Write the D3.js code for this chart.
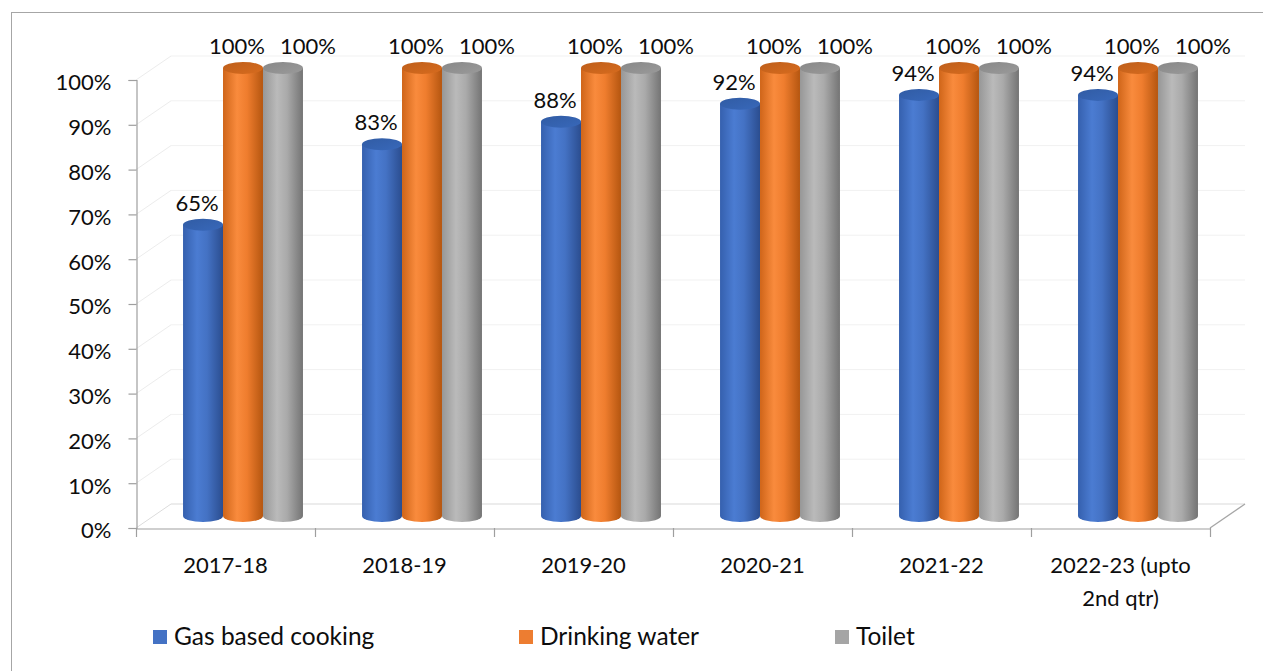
<!DOCTYPE html>
<html>
<head>
<meta charset="utf-8">
<script src="https://cdn.jsdelivr.net/npm/d3@7"></script>
<style>
  html, body { margin: 0; padding: 0; background: #ffffff; }
  svg { display: block; }
  text { font-family: Lato, "Open Sans", sans-serif; fill: #0d0d0d; }
</style>
</head>
<body>
<svg id="chart" width="1263" height="671"></svg>
<script>
// Facilities available, share by year
const categories = ["2017-18", "2018-19", "2019-20", "2020-21", "2021-22", "2022-23 (upto 2nd qtr)"];
const gasCooking = [0.65, 0.83, 0.88, 0.92, 0.94, 0.94];
const drinkingWater = [1.00, 1.00, 1.00, 1.00, 1.00, 1.00];
const toilet = [1.00, 1.00, 1.00, 1.00, 1.00, 1.00];
const yTicks = [0, 0.1, 0.2, 0.3, 0.4, 0.5, 0.6, 0.7, 0.8, 0.9, 1.0];

const series = [
  { name: "Gas based cooking", values: gasCooking,
    side: ["#3560ae", "#4b7cd2", "#4472c4", "#2b4d8f"], top: "#3461ad", swatch: "#4472c4", labelDx: -6 },
  { name: "Drinking water", values: drinkingWater,
    side: ["#cf6519", "#f98b3d", "#ef7d2e", "#b55610"], top: "#c8641c", swatch: "#ed7d31", labelDx: -6 },
  { name: "Toilet", values: toilet,
    side: ["#979797", "#bababa", "#aaaaaa", "#747474"], top: "#8f8f8f", swatch: "#a5a5a5", labelDx: 25 }
];

const svg = d3.select("#chart");
const fmt = d3.format(".0%");

// Front plane of the 3-D plot area and the depth offset toward the back wall
const x0 = 136, x1 = 1210, yFloor = 528, yCeil = 80;
const depth = { dx: 35, dy: -24 };
const barDepth = 0.5;          // bars stand half-way into the floor
const barGroup = 0.67;         // share of a category slot taken by the bars
const ry = 6;                  // ellipse half-height of the cylinder caps

const x = d3.scaleBand().domain(categories).range([x0, x1]).paddingInner(0).paddingOuter(0);
const y = d3.scaleLinear().domain([0, 1]).range([yFloor, yCeil]);
const xs = d3.scaleBand().domain(series.map(s => s.name))
  .range([-x.bandwidth() * barGroup / 2, x.bandwidth() * barGroup / 2]);

// Chart border
svg.append("rect")
  .attr("x", 11.5).attr("y", 12.5).attr("width", 1400).attr("height", 800)
  .attr("fill", "none").attr("stroke", "#a6a6a6").attr("stroke-width", 1);

// Gradients for the cylinder sides
const defs = svg.append("defs");
series.forEach((s, i) => {
  const g = defs.append("linearGradient").attr("id", "side" + i)
    .attr("x1", "0%").attr("x2", "100%").attr("y1", "0%").attr("y2", "0%");
  [0, 0.35, 0.6, 1].forEach((o, k) => g.append("stop").attr("offset", o).attr("stop-color", s.side[k]));
  const t = defs.append("linearGradient").attr("id", "top" + i)
    .attr("x1", "0%").attr("x2", "100%").attr("y1", "0%").attr("y2", "100%");
  t.append("stop").attr("offset", 0).attr("stop-color", d3.color(s.top).darker(0.15));
  t.append("stop").attr("offset", 1).attr("stop-color", d3.color(s.top).brighter(0.2));
});

// Back wall gridlines and side-wall diagonals
const walls = svg.append("g");
yTicks.filter(t => t > 0).forEach(t => {
  walls.append("line")
    .attr("x1", x0).attr("y1", y(t)).attr("x2", x0 + depth.dx).attr("y2", y(t) + depth.dy)
    .attr("stroke", "#ececec").attr("stroke-width", 1);
  walls.append("line")
    .attr("x1", x0 + depth.dx).attr("y1", y(t) + depth.dy).attr("x2", x1 + depth.dx).attr("y2", y(t) + depth.dy)
    .attr("stroke", "#f1f1f1").attr("stroke-width", 1);
});

// Floor
const floor = svg.append("g").attr("fill", "none");
floor.append("line")
  .attr("x1", x0).attr("y1", yFloor).attr("x2", x0 + depth.dx).attr("y2", yFloor + depth.dy)
  .attr("stroke", "#dcdcdc");
floor.append("line")
  .attr("x1", x0 + depth.dx).attr("y1", yFloor + depth.dy).attr("x2", x1 + depth.dx).attr("y2", yFloor + depth.dy)
  .attr("stroke", "#d9d9d9");
floor.append("line")
  .attr("x1", x1).attr("y1", yFloor).attr("x2", x1 + depth.dx).attr("y2", yFloor + depth.dy)
  .attr("stroke", "#a6a6a6").attr("stroke-width", 1.3);

// Y axis
const yAxis = svg.append("g").attr("transform", `translate(${x0 + 0.5},0)`)
  .call(d3.axisLeft(y).tickValues(yTicks).tickFormat(fmt).tickSize(8).tickPadding(17));
yAxis.select(".domain").attr("stroke", "#9f9f9f").attr("stroke-width", 1.2);
yAxis.selectAll(".tick line").attr("stroke", "#9f9f9f").attr("stroke-width", 1.2);
yAxis.selectAll(".tick text")
  .attr("font-size", 22).attr("font-family", "Lato").attr("fill", "#0d0d0d").attr("dy", "0.45em");

// X axis along the front edge of the floor
const xAxis = svg.append("g").attr("transform", `translate(0,${yFloor + 0.5})`)
  .call(d3.axisBottom(x).tickSize(0).tickFormat(""));
xAxis.select(".domain").attr("stroke", "#9f9f9f").attr("stroke-width", 1.2);
xAxis.selectAll(".tick").remove();
const catEdges = categories.map(c => x(c)).concat([x1]);
svg.append("g").selectAll("line").data(catEdges).join("line")
  .attr("x1", d => d + 0.5).attr("x2", d => d + 0.5)
  .attr("y1", yFloor).attr("y2", yFloor + 9)
  .attr("stroke", "#9f9f9f").attr("stroke-width", 1.2);

// Category labels, wrapped to fit the slot
const catG = svg.append("g");
categories.forEach(c => {
  const cx = x(c) + x.bandwidth() / 2;
  const words = c.split(" ");
  const t = catG.append("text").attr("x", cx).attr("y", 573)
    .attr("text-anchor", "middle").attr("font-size", 22);
  let line = [];
  let ts = t.append("tspan").attr("x", cx).attr("dy", 0);
  words.forEach(w => {
    line.push(w);
    ts.text(line.join(" "));
    if (ts.node().getComputedTextLength() > 160 && line.length > 1) {
      line.pop();
      ts.text(line.join(" "));
      line = [w];
      ts = t.append("tspan").attr("x", cx).attr("dy", "1.5em").text(w);
    }
  });
});

// Cylinders
function cylinderPath(cx, r, yTop, yBot) {
  return `M${cx - r},${yTop} L${cx - r},${yBot} A${r},${ry} 0 0 0 ${cx + r},${yBot} L${cx + r},${yTop} Z`;
}
const barsG = svg.append("g");
const drawOrder = [0, 2, 1];
categories.forEach((c, ci) => {
  const base = x(c) + x.bandwidth() / 2 + depth.dx * barDepth;
  drawOrder.forEach(si => {
    const s = series[si];
    const v = s.values[ci];
    const cx = base + xs(s.name) + xs.bandwidth() / 2;
    const r = xs.bandwidth() / 2;
    const yB = y(0) + depth.dy * barDepth;
    const yT = y(v) + depth.dy * barDepth;
    const g = barsG.append("g");
    g.append("path").attr("d", cylinderPath(cx, r, yT, yB)).attr("fill", `url(#side${si})`);
    g.append("ellipse").attr("cx", cx).attr("cy", yT).attr("rx", r).attr("ry", ry)
      .attr("fill", `url(#top${si})`);
  });
});

// Value labels
const labelsG = svg.append("g");
categories.forEach((c, ci) => {
  const base = x(c) + x.bandwidth() / 2 + depth.dx * barDepth;
  series.forEach(s => {
    const v = s.values[ci];
    const cx = base + xs(s.name) + xs.bandwidth() / 2;
    labelsG.append("text")
      .attr("x", cx + s.labelDx)
      .attr("y", y(v) + depth.dy * barDepth - 14)
      .attr("text-anchor", "middle").attr("font-size", 22)
      .text(fmt(v));
  });
});

// Legend
const legendX = [153, 519, 835];
const legend = svg.append("g");
series.forEach((s, i) => {
  legend.append("rect").attr("x", legendX[i]).attr("y", 630).attr("width", 14).attr("height", 14)
    .attr("fill", s.swatch);
  legend.append("text").attr("x", legendX[i] + 21).attr("y", 645).attr("font-size", 24.5).text(s.name);
});
</script>
</body>
</html>
